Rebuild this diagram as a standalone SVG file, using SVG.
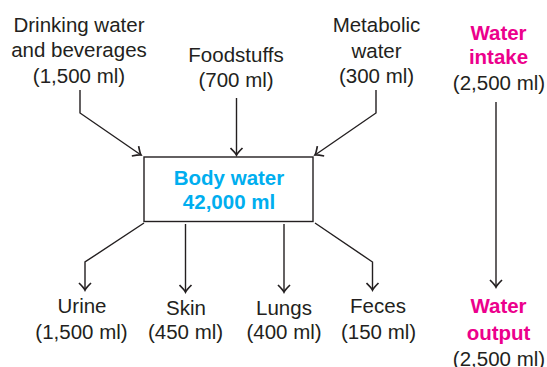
<svg xmlns="http://www.w3.org/2000/svg" width="547" height="367" viewBox="0 0 547 367">
<style>
text{font-family:"Liberation Sans",Arial,Helvetica,sans-serif;font-size:20.5px;fill:#231f20;text-anchor:middle}
.b{font-weight:bold}
.blue{fill:#00aeef}
.mag{fill:#ec008c}
.ln{fill:none;stroke:#231f20;stroke-width:1.4}
.box{fill:#fff;stroke:#231f20;stroke-width:1.4}
</style>
<defs>
<marker id="ah" markerWidth="14" markerHeight="14" viewBox="-10 -7 12 14" refX="0" refY="0" orient="auto" markerUnits="userSpaceOnUse">
<path d="M-7,-6 Q-2,-1 0,0 Q-2,1 -7,6" fill="none" stroke="#231f20" stroke-width="1.7"/>
</marker>
</defs>
<rect width="547" height="367" fill="#fff"/>
<g id="connectors">
<polyline class="ln" points="80,90 80,113 141,155" marker-end="url(#ah)"/>
<line class="ln" x1="236.5" y1="98" x2="236.5" y2="155" marker-end="url(#ah)"/>
<polyline class="ln" points="376,90 376,113 315,155" marker-end="url(#ah)"/>
<line class="ln" x1="496" y1="102" x2="496" y2="287" marker-end="url(#ah)"/>
<polyline class="ln" points="144,223 85,262 85,290" marker-end="url(#ah)"/>
<line class="ln" x1="185.5" y1="224" x2="185.5" y2="292" marker-end="url(#ah)"/>
<line class="ln" x1="284" y1="224" x2="284" y2="292" marker-end="url(#ah)"/>
<polyline class="ln" points="315,223 372.5,262 372.5,290" marker-end="url(#ah)"/>
</g>
<g id="body-water">
<rect class="box" x="144" y="157" width="169" height="64.5"/>
<text class="b blue" x="229" y="185">Body water</text>
<text class="b blue" x="229" y="209">42,000 ml</text>
</g>
<g id="drinking">
<text x="79" y="32">Drinking water</text>
<text x="79" y="57">and beverages</text>
<text x="79" y="83">(1,500 ml)</text>
</g>
<g id="foodstuffs">
<text x="236" y="62">Foodstuffs</text>
<text x="236" y="87">(700 ml)</text>
</g>
<g id="metabolic">
<text x="376.5" y="32">Metabolic</text>
<text x="376.5" y="58">water</text>
<text x="376.5" y="83">(300 ml)</text>
</g>
<g id="intake">
<text class="b mag" x="498.5" y="40">Water</text>
<text class="b mag" x="498.5" y="64">intake</text>
<text x="499" y="90">(2,500 ml)</text>
</g>
<g id="urine">
<text x="82" y="313">Urine</text>
<text x="81.5" y="339">(1,500 ml)</text>
</g>
<g id="skin">
<text x="186" y="315">Skin</text>
<text x="185.5" y="339">(450 ml)</text>
</g>
<g id="lungs">
<text x="284" y="315">Lungs</text>
<text x="284" y="339">(400 ml)</text>
</g>
<g id="feces">
<text x="378" y="313">Feces</text>
<text x="378.5" y="339">(150 ml)</text>
</g>
<g id="output">
<text class="b mag" x="498.5" y="313">Water</text>
<text class="b mag" x="498.5" y="340">output</text>
<text x="499" y="366">(2,500 ml)</text>
</g>
</svg>
